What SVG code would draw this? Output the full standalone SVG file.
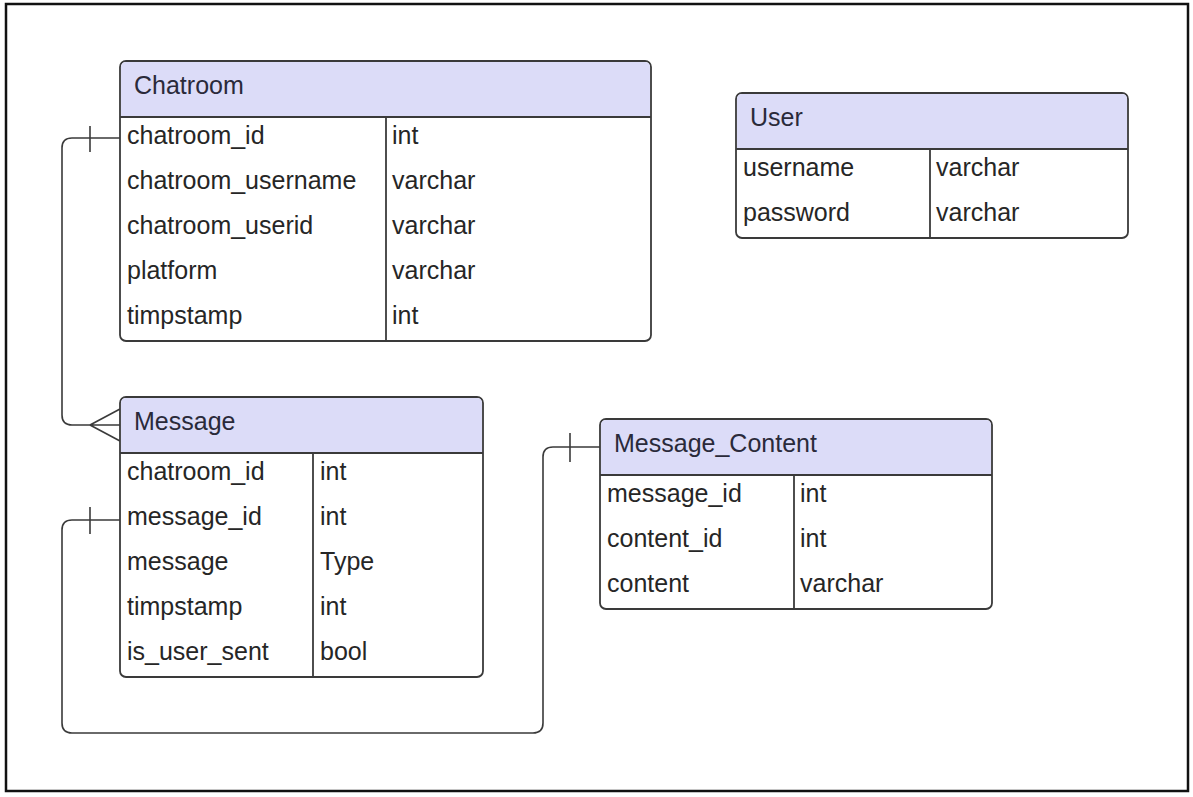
<svg xmlns="http://www.w3.org/2000/svg" width="1193" height="797" viewBox="0 0 1193 797">
<style>
.bg{fill:#ffffff}
.frame{fill:none;stroke:#111;stroke-width:2.5}
.box{fill:#ffffff;stroke:#3a3a3a;stroke-width:1.8}
.hdr{fill:#dcdcf8;stroke:none}
.sep{stroke:#3a3a3a;stroke-width:1.8;fill:none}
.t{font-family:"Liberation Sans",Arial,sans-serif;font-size:25px;fill:#262626}
.h{font-family:"Liberation Sans",Arial,sans-serif;font-size:25px;fill:#2a2a3a}
.c{fill:none;stroke:#3a3a3a;stroke-width:1.6}
</style>
<rect class="bg" x="0" y="0" width="1193" height="797"/>
<rect class="frame" x="6" y="4" width="1182" height="787"/>

<g id="connectors">
  <path class="c" d="M120,138 H72 Q62,138 62,148 V415 Q62,425 72,425 H90"/>
  <line class="c" x1="90" y1="126" x2="90" y2="152"/>
  <path class="c" d="M90,425 L120,409 M90,425 H120 M90,425 L120,441"/>
  <path class="c" d="M120,520 H72 Q62,520 62,530 V723 Q62,733 72,733 H533 Q543,733 543,723 V457 Q543,447 553,447 H600"/>
  <line class="c" x1="90" y1="507" x2="90" y2="534"/>
  <line class="c" x1="570" y1="433" x2="570" y2="462"/>
</g>

<g id="chatroom">
  <rect class="box" x="120" y="61" width="531" height="280" rx="6"/>
  <path class="hdr" d="M126,62 H645 Q650,62 650,67 V116.5 H121 V67 Q121,62 126,62 Z"/>
  <line class="sep" x1="120" y1="117" x2="651" y2="117"/>
  <line class="sep" x1="386" y1="117" x2="386" y2="341"/>
  <text class="h" x="134" y="94">Chatroom</text>
  <text class="t" x="127" y="144">chatroom_id</text><text class="t" x="392" y="144">int</text>
  <text class="t" x="127" y="189">chatroom_username</text><text class="t" x="392" y="189">varchar</text>
  <text class="t" x="127" y="234">chatroom_userid</text><text class="t" x="392" y="234">varchar</text>
  <text class="t" x="127" y="279">platform</text><text class="t" x="392" y="279">varchar</text>
  <text class="t" x="127" y="324">timpstamp</text><text class="t" x="392" y="324">int</text>
</g>

<g id="user">
  <rect class="box" x="736" y="93" width="392" height="145" rx="6"/>
  <path class="hdr" d="M742,94 H1122 Q1127,94 1127,99 V148.5 H737 V99 Q737,94 742,94 Z"/>
  <line class="sep" x1="736" y1="149" x2="1128" y2="149"/>
  <line class="sep" x1="930" y1="149" x2="930" y2="238"/>
  <text class="h" x="750" y="126">User</text>
  <text class="t" x="743" y="176">username</text><text class="t" x="936" y="176">varchar</text>
  <text class="t" x="743" y="221">password</text><text class="t" x="936" y="221">varchar</text>
</g>

<g id="message">
  <rect class="box" x="120" y="397" width="363" height="280" rx="6"/>
  <path class="hdr" d="M126,398 H477 Q482,398 482,403 V452.5 H121 V403 Q121,398 126,398 Z"/>
  <line class="sep" x1="120" y1="453" x2="483" y2="453"/>
  <line class="sep" x1="313" y1="453" x2="313" y2="677"/>
  <text class="h" x="134" y="430">Message</text>
  <text class="t" x="127" y="480">chatroom_id</text><text class="t" x="320" y="480">int</text>
  <text class="t" x="127" y="525">message_id</text><text class="t" x="320" y="525">int</text>
  <text class="t" x="127" y="570">message</text><text class="t" x="320" y="570">Type</text>
  <text class="t" x="127" y="615">timpstamp</text><text class="t" x="320" y="615">int</text>
  <text class="t" x="127" y="660">is_user_sent</text><text class="t" x="320" y="660">bool</text>
</g>

<g id="message_content">
  <rect class="box" x="600" y="419" width="392" height="190" rx="6"/>
  <path class="hdr" d="M606,420 H986 Q991,420 991,425 V474.5 H601 V425 Q601,420 606,420 Z"/>
  <line class="sep" x1="600" y1="475" x2="992" y2="475"/>
  <line class="sep" x1="794" y1="475" x2="794" y2="609"/>
  <text class="h" x="614" y="452">Message_Content</text>
  <text class="t" x="607" y="502">message_id</text><text class="t" x="800" y="502">int</text>
  <text class="t" x="607" y="547">content_id</text><text class="t" x="800" y="547">int</text>
  <text class="t" x="607" y="592">content</text><text class="t" x="800" y="592">varchar</text>
</g>
</svg>
